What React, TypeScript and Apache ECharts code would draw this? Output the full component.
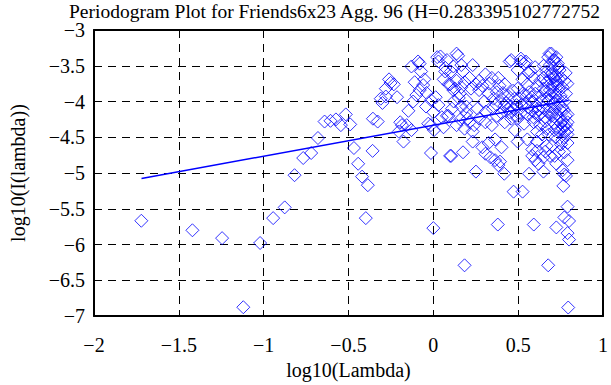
import React, { useEffect, useRef } from "react";
import * as echarts from "echarts";

const TITLE = "Periodogram Plot for Friends6x23 Agg. 96 (H=0.283395102772752";
const X_NAME = "log10(Lambda)";
const Y_NAME = "log10(I(lambda))";
const X_RANGE = [-2, 1];
const Y_RANGE = [-7, -3];
const TICK_STEP = 0.5;

// periodogram points [log10(lambda), log10(I(lambda))]
const lowFreqPoints: [number, number][] = [
  [-1.721, -5.667], [-1.42, -5.8], [-1.245, -5.91], [-1.12, -6.876], [-1.021, -5.978],
  [-0.944, -5.63], [-0.876, -5.48], [-0.818, -5.03], [-0.767, -4.79], [-0.72, -4.72],
  [-0.68, -4.51], [-0.641, -4.28], [-0.606, -4.27], [-0.574, -4.25], [-0.545, -4.33],
  [-0.516, -4.18], [-0.49, -4.32], [-0.468, -4.65], [-0.443, -4.87], [-0.42, -5.05],
  [-0.398, -5.63], [-0.386, -5.17], [-0.358, -4.69], [-0.356, -4.24], [-0.328, -4.28],
  [-0.31, -3.96],
];

const midFreqPoints: [number, number][] = [
  [-0.3, -4.02], [-0.28, -3.82], [-0.28, -3.93], [-0.261, -3.69], [-0.252, -3.74],
  [-0.233, -3.76], [-0.214, -3.94], [-0.195, -4.29], [-0.204, -4.42], [-0.185, -4.33],
  [-0.176, -4.56], [-0.147, -4.13], [-0.157, -4.33], [-0.129, -4.4], [-0.129, -3.51],
  [-0.11, -3.73], [-0.09, -3.44], [-0.081, -3.47], [-0.072, -3.58], [-0.053, -3.69],
  [-0.119, -4.0], [-0.1, -3.91], [-0.08, -3.84], [-0.06, -3.77], [-0.043, -4.07],
  [-0.014, -3.98], [-0.03, -4.31], [-0.014, -4.33], [0.004, -4.4], [-0.014, -4.72],
  [0.0, -5.77], [0.014, -3.94], [0.023, -3.38], [0.03, -3.44], [0.042, -3.37],
  [0.071, -3.53], [0.061, -3.69], [0.09, -3.76], [0.104, -3.58], [0.137, -3.33],
  [0.146, -3.36], [0.165, -3.49], [0.118, -3.84], [0.137, -3.71], [0.184, -3.73],
  [0.165, -3.8], [0.089, -4.2], [0.137, -4.33], [0.099, -4.76], [0.175, -4.71],
  [0.194, -4.07], [0.203, -4.24], [0.03, -4.05], [0.05, -4.22], [0.06, -4.36],
  [0.184, -6.29], [0.12, -4.0], [0.15, -3.95], [0.08, -3.42], [0.118, -3.51],
  [0.175, -3.58], [0.07, -3.58], [0.099, -3.76], [0.127, -3.82], [0.156, -3.89],
  [0.194, -3.98], [0.08, -4.2], [0.165, -4.07], [0.194, -4.16], [0.184, -4.38],
  [0.105, -4.76], [-0.04, -3.88], [0.0, -4.15], [0.11, -4.1], [0.16, -4.25],
];

const highFreqPoints: [number, number][] = [
  [0.232, -3.49], [0.213, -3.67], [0.27, -3.71], [0.307, -3.62], [0.345, -3.67],
  [0.383, -3.67], [0.421, -3.76], [0.45, -3.44], [0.459, -3.42], [0.222, -3.82],
  [0.251, -3.76], [0.27, -3.84], [0.289, -3.78], [0.326, -3.89], [0.355, -3.96],
  [0.374, -3.87], [0.402, -3.96], [0.43, -4.02], [0.459, -4.07], [0.478, -3.96],
  [0.213, -4.29], [0.241, -4.33], [0.27, -4.24], [0.307, -4.29], [0.345, -4.33],
  [0.374, -4.2], [0.402, -4.16], [0.421, -4.29], [0.459, -4.24], [0.488, -4.2],
  [0.232, -4.42], [0.232, -4.56], [0.289, -4.64], [0.307, -4.73], [0.326, -4.58],
  [0.336, -4.78], [0.364, -4.82], [0.393, -4.84], [0.383, -4.89], [0.364, -4.53],
  [0.402, -4.64], [0.251, -4.98], [0.418, -5.01], [0.38, -5.72], [0.473, -5.26],
  [0.44, -4.1], [0.47, -3.85], [0.3, -4.0], [0.26, -4.1], [0.35, -4.1],
  [0.48, -4.4], [0.39, -3.78], [0.41, -3.88], [0.44, -3.92], [0.33, -3.75],
  [0.42, -4.06], [0.45, -4.15], [0.37, -4.04], [0.31, -4.14], [0.49, -4.05],
];

const topFreqPoints: [number, number][] = [
  [0.497, -3.56], [0.516, -3.44], [0.545, -3.44], [0.516, -3.4], [0.535, -3.47],
  [0.685, -3.33], [0.696, -3.33], [0.677, -3.38], [0.706, -3.42], [0.725, -3.38],
  [0.715, -3.42], [0.734, -3.47], [0.687, -3.49], [0.706, -3.53], [0.744, -3.56],
  [0.668, -3.58], [0.696, -3.62], [0.725, -3.64], [0.753, -3.67], [0.772, -3.71],
  [0.649, -3.67], [0.63, -3.71], [0.668, -3.73], [0.706, -3.76], [0.734, -3.78],
  [0.762, -3.8], [0.611, -3.78], [0.649, -3.82], [0.687, -3.84], [0.715, -3.87],
  [0.782, -3.89], [0.601, -3.89], [0.63, -3.93], [0.668, -3.96], [0.725, -3.98],
  [0.772, -4.0], [0.573, -3.58], [0.554, -3.76], [0.526, -3.69], [0.592, -3.67],
  [0.564, -3.87], [0.526, -3.89], [0.497, -3.82], [0.507, -3.96], [0.545, -4.02],
  [0.583, -4.0], [0.611, -4.07], [0.649, -4.09], [0.687, -4.07], [0.715, -4.11],
  [0.753, -4.13], [0.791, -4.18], [0.478, -4.11], [0.516, -4.16], [0.554, -4.18],
  [0.583, -4.13], [0.62, -4.2], [0.658, -4.22], [0.696, -4.2], [0.725, -4.24],
  [0.762, -4.27], [0.791, -4.29], [0.782, -4.33], [0.762, -4.38], [0.744, -4.42],
  [0.772, -4.42], [0.497, -4.24], [0.535, -4.31], [0.592, -4.29], [0.63, -4.33],
  [0.668, -4.38], [0.715, -4.4], [0.611, -4.42], [0.497, -4.56], [0.554, -4.53],
  [0.611, -4.56], [0.583, -4.67], [0.611, -4.69], [0.601, -4.82], [0.583, -4.76],
  [0.649, -4.78], [0.687, -4.76], [0.715, -4.76], [0.772, -4.71], [0.791, -4.82],
  [0.753, -4.6], [0.791, -4.58], [0.668, -4.62], [0.564, -5.01], [0.649, -4.98],
  [0.762, -4.96], [0.782, -5.04], [0.766, -5.18], [0.526, -5.26], [0.592, -5.72],
  [0.725, -5.76], [0.791, -5.47], [0.772, -5.62], [0.8, -5.67], [0.791, -5.84],
  [0.8, -5.93], [0.677, -6.29], [0.795, -6.88], [0.62, -4.87], [0.725, -4.87],
  [0.772, -5.02], [0.7, -3.6], [0.72, -3.7], [0.74, -3.85], [0.69, -3.9],
  [0.66, -3.86], [0.75, -3.92], [0.71, -4.02], [0.68, -4.14], [0.64, -4.0],
  [0.6, -4.16], [0.56, -4.08], [0.52, -4.05], [0.76, -4.08], [0.78, -4.2],
  [0.79, -4.4], [0.77, -4.5], [0.75, -4.3], [0.73, -4.18], [0.71, -4.3],
  [0.64, -4.46], [0.66, -4.7], [0.7, -4.62], [0.74, -4.7], [0.56, -3.6],
  [0.6, -3.52], [0.65, -3.5], [0.74, -3.52], [0.78, -3.6], [0.79, -3.75],
  [0.69, -3.68], [0.71, -3.66], [0.73, -3.74], [0.7, -3.8], [0.72, -3.92],
  [0.68, -3.98], [0.74, -4.04], [0.77, -4.12], [0.7, -4.16], [0.66, -4.28],
  [0.62, -4.12], [0.58, -3.94], [0.55, -3.92], [0.59, -4.22], [0.77, -4.34],
  [0.79, -4.46], [0.76, -4.54], [0.73, -4.36], [0.68, -4.46], [0.72, -4.5],
];

const fitLineX = [-1.72, 0.798];
const fitLineY = [-5.076, -3.985];

const FONT = "Liberation Serif";
const BLUE = "#0000ff";

const fmt = (v: number) => String(v).replace("-", "\u2212");

export default function App() {
  const ref = useRef<HTMLDivElement>(null);
  useEffect(() => {
    const chart = echarts.init(ref.current!, null, { renderer: "svg" });
    const allPoints = [...lowFreqPoints, ...midFreqPoints, ...highFreqPoints, ...topFreqPoints];
    const fitData = fitLineX.map((x, i) => [x, fitLineY[i]]);
    const frame = { show: true, onZero: false, lineStyle: { color: "#000", width: 2 } };
    const ticks = { show: true, inside: true, length: 6, lineStyle: { color: "#000", width: 1 } };
    const grid = { show: true, lineStyle: { color: "#000", width: 1, type: [8, 6] } };
    const labelStyle = { color: "#000", fontFamily: FONT, fontSize: 20 };
    chart.setOption({
      animation: false,
      backgroundColor: "#fff",
      grid: { left: 81, right: 3, top: 30, bottom: 55, containLabel: false },
      graphic: [
        {
          type: "text",
          x: 69,
          y: 1,
          style: {
            text: TITLE,
            fontFamily: FONT,
            fontSize: 19.5,
            fill: "#000",
            align: "left",
            verticalAlign: "top",
          },
        },
      ],
      xAxis: [
        {
          type: "value",
          min: X_RANGE[0],
          max: X_RANGE[1],
          interval: TICK_STEP,
          position: "bottom",
          axisLine: frame,
          axisTick: ticks,
          splitLine: grid,
          axisLabel: { ...labelStyle, margin: 19, formatter: fmt },
          name: X_NAME,
          nameLocation: "middle",
          nameGap: 37,
          nameTextStyle: labelStyle,
        },
        {
          type: "value",
          min: X_RANGE[0],
          max: X_RANGE[1],
          interval: TICK_STEP,
          position: "top",
          axisLine: frame,
          axisTick: ticks,
          splitLine: { show: false },
          axisLabel: { show: false },
        },
      ],
      yAxis: [
        {
          type: "value",
          min: Y_RANGE[0],
          max: Y_RANGE[1],
          interval: TICK_STEP,
          position: "left",
          axisLine: frame,
          axisTick: ticks,
          splitLine: grid,
          axisLabel: { ...labelStyle, margin: 9, formatter: fmt },
          name: Y_NAME,
          nameLocation: "middle",
          nameGap: 66,
          nameTextStyle: labelStyle,
        },
        {
          type: "value",
          min: Y_RANGE[0],
          max: Y_RANGE[1],
          interval: TICK_STEP,
          position: "right",
          axisLine: frame,
          axisTick: ticks,
          splitLine: { show: false },
          axisLabel: { show: false },
        },
      ],
      series: [
        {
          type: "scatter",
          xAxisIndex: 0,
          yAxisIndex: 0,
          data: allPoints,
          symbol: "diamond",
          symbolSize: 13,
          itemStyle: { color: "transparent", borderColor: BLUE, borderWidth: 1 },
          emphasis: { disabled: true },
          silent: true,
        },
        {
          type: "line",
          xAxisIndex: 0,
          yAxisIndex: 0,
          data: fitData,
          symbol: "none",
          showSymbol: false,
          lineStyle: { color: BLUE, width: 1.5 },
          emphasis: { disabled: true },
          silent: true,
        },
      ],
    });
    return () => chart.dispose();
  }, []);
  return (
    <div
      ref={ref}
      style={{ position: "fixed", left: 0, top: 0, width: 611, height: 385, background: "#fff" }}
    />
  );
}
